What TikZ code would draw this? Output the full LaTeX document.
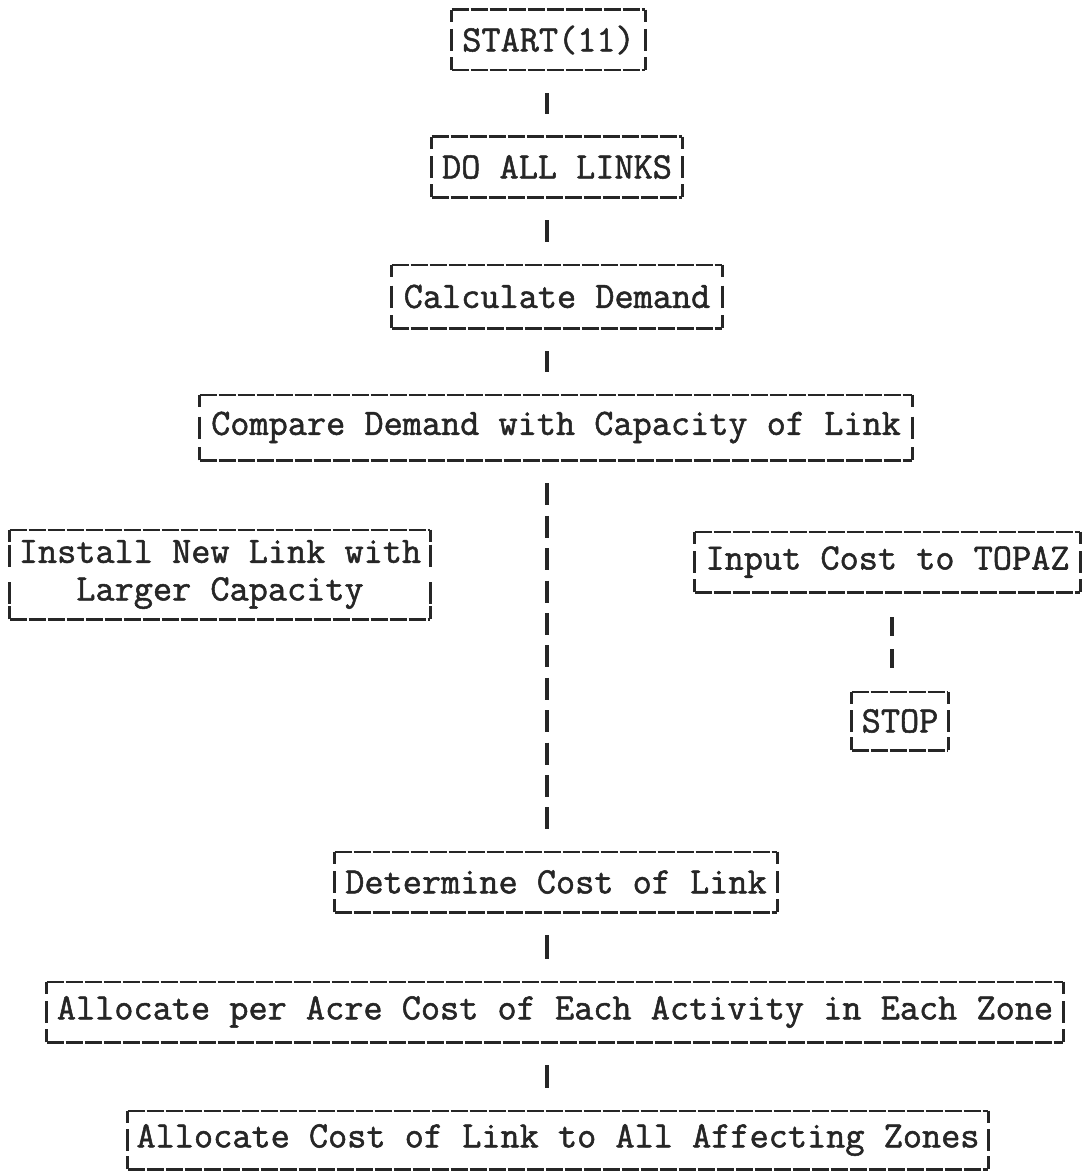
\documentclass[tikz,border=0pt]{standalone}
\usepackage{fontspec}
\setmonofont{Latin Modern Mono}[FakeBold=1.4]
\usetikzlibrary{calc}

\colorlet{ink}{black!85}
\tikzset{
  x=0.5pt, y=-0.5pt,
  twbox/.style={inner sep=0pt, align=center, text=ink,
    font=\ttfamily\fontsize{18.6}{18.8}\selectfont},
  rule/.style={draw=ink, line width=1.1pt, dash pattern=on 8.9pt off 0.6pt},
  tick/.style={draw=ink, line width=1.6pt},
  sidebar/.style={draw=ink, line width=1.6pt},
  bar/.style={draw=ink, line width=1.6pt, shorten <=11.5pt, shorten >=11.5pt},
}

% Typewriter frame: dashed top and bottom rules, corner ticks and a side
% bar on each text row (#2: row offsets from the centre, downward positive)
\newcommand\twframe[2]{%
  \draw[rule] (#1.north west) -- (#1.north east);
  \draw[rule] (#1.south west) -- (#1.south east);
  \draw[tick] (#1.north west) -- ++(0,12);
  \draw[tick] (#1.north east) -- ++(0,12);
  \draw[tick] (#1.south west) -- ++(0,-13);
  \draw[tick] (#1.south east) -- ++(0,-13);
  \foreach \r in {#2} {
    \draw[sidebar] ($(#1.west)+(0,\r-11)$) -- ++(0,22);
    \draw[sidebar] ($(#1.east)+(0,\r-11)$) -- ++(0,22);
  }%
}

\begin{document}
\begin{tikzpicture}
\fill[white] (0,0) rectangle (1091,1172);
\useasboundingbox (0,0) rectangle (1091,1172);

\coordinate (spine) at (547,0);
\coordinate (spineR) at (892,0);

\node[twbox, minimum width=96.5pt, minimum height=30pt] (start) at (548.5,40) {START(11)};
\node[twbox, minimum width=125pt, minimum height=30pt] (doall) at (557,167) {DO ALL LINKS};
\node[twbox, minimum width=165pt, minimum height=31.5pt] (calc) at (557,296.5) {Calculate Demand};
\node[twbox, minimum width=356pt, minimum height=32.5pt] (compare) at (556,427.5) {Compare Demand with Capacity of Link};
\node[twbox, minimum width=210pt, minimum height=44.5pt] (install) at (220,574.5) {Install New Link with\\Larger Capacity};
\node[twbox, minimum width=192.5pt, minimum height=30pt] (input) at (887.5,562) {Input Cost to TOPAZ};
\node[twbox, minimum width=48pt, minimum height=29pt] (stop) at (900,721) {STOP};
\node[twbox, minimum width=221pt, minimum height=30pt] (determine) at (556,882) {Determine Cost of Link};
\node[twbox, minimum width=508pt, minimum height=30pt] (alloca) at (555,1012) {Allocate per Acre Cost of Each Activity in Each Zone};
\node[twbox, minimum width=430pt, minimum height=29pt] (allocb) at (558,1140) {Allocate Cost of Link to All Affecting Zones};

\twframe{start}{0}
\twframe{doall}{0}
\twframe{calc}{0}
\twframe{compare}{0}
\twframe{install}{-18.8,18.8}
\twframe{input}{0}
\twframe{stop}{0}
\twframe{determine}{0}
\twframe{alloca}{0}
\twframe{allocb}{0}

% connectors typed as rows of vertical bars
\draw[bar] (start.south -| spine) -- (doall.north -| spine);
\draw[bar] (doall.south -| spine) -- (calc.north -| spine);
\draw[bar] (calc.south -| spine) -- (compare.north -| spine);
\draw[bar, dash pattern=on 11pt off 5.2pt] (compare.south -| spine) -- (determine.north -| spine);
\draw[bar] (determine.south -| spine) -- (alloca.north -| spine);
\draw[bar] (alloca.south -| spine) -- (allocb.north -| spine);
\draw[bar, shorten <=12.5pt, shorten >=11pt, dash pattern=on 9.5pt off 6.5pt]
  (input.south -| spineR) -- (stop.north -| spineR);
\end{tikzpicture}
\end{document}
